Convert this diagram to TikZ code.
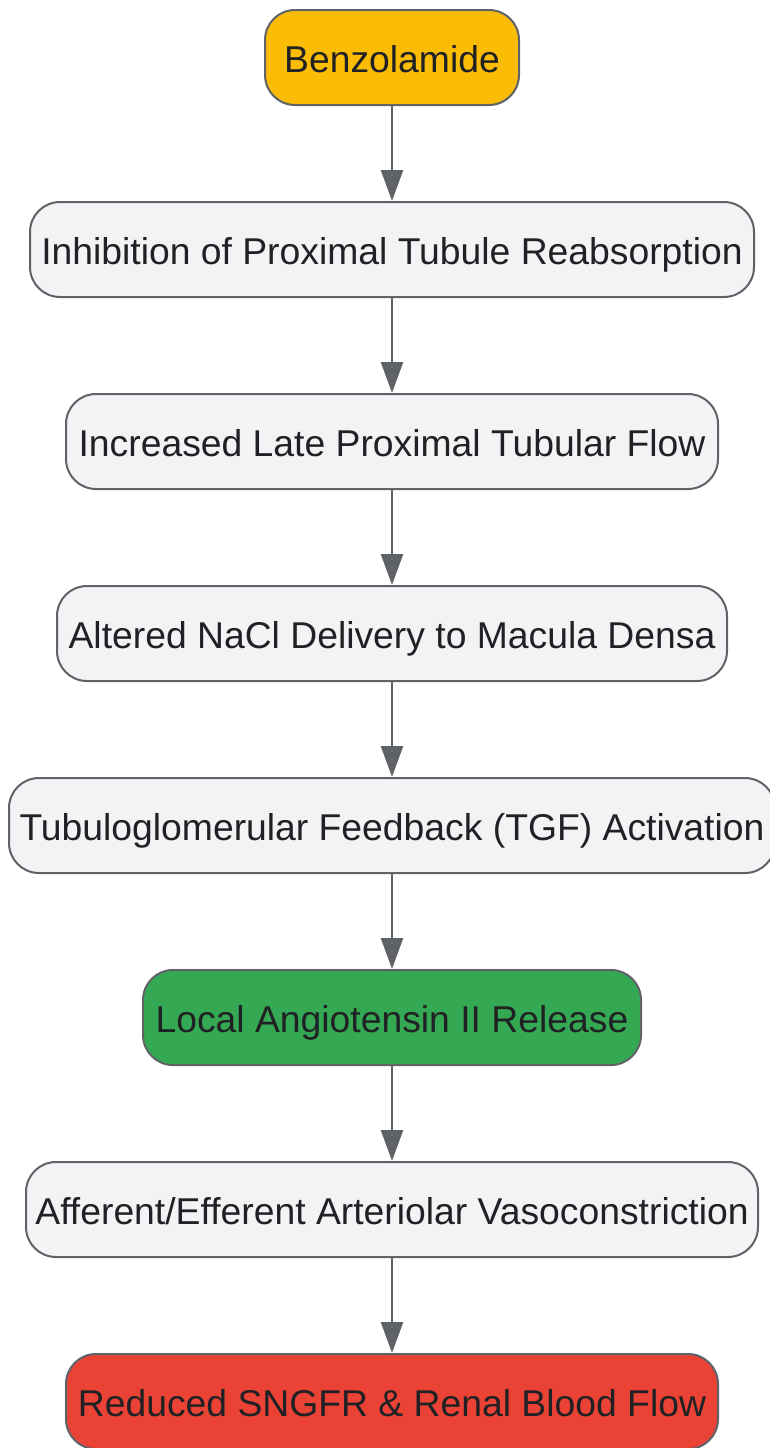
\documentclass[tikz,border=0pt]{standalone}
\usepackage{fontspec}
\setmainfont{Liberation Sans}
\usetikzlibrary{arrows.meta}
\definecolor{edgegrey}{HTML}{5F6368}
\definecolor{lightfill}{HTML}{F1F3F4}
\definecolor{txt}{HTML}{202124}
\definecolor{yel}{HTML}{FBBC05}
\definecolor{grn}{HTML}{34A853}
\definecolor{redc}{HTML}{EA4335}
\tikzset{
  box/.style={draw=edgegrey, line width=2pt, rounded corners=30pt, fill=lightfill,
    minimum height=95pt, inner sep=0pt, text=txt, text height=30pt, text depth=0pt,
    font=\fontsize{37.3}{44}\selectfont},
  conn/.style={draw=edgegrey, line width=2.5pt, -{Triangle[width=22pt,length=31pt]}}
}
\begin{document}
\begin{tikzpicture}[x=1pt,y=-1pt]
\useasboundingbox (0,0) rectangle (769,1448);
\node[box, fill=yel, minimum width=254pt] (n1) at (392,57.5) {Benzolamide};
\node[box, minimum width=724pt] (n2) at (392,249.5) {Inhibition of Proximal Tubule Reabsorption};
\node[box, minimum width=652pt] (n3) at (392,441.5) {Increased Late Proximal Tubular Flow};
\node[box, minimum width=670pt] (n4) at (392,633.5) {Altered NaCl Delivery to Macula Densa};
\node[box, minimum width=766pt] (n5) at (392,825.5) {Tubuloglomerular Feedback (TGF) Activation};
\node[box, fill=grn, minimum width=498pt] (n6) at (392,1017.5) {Local Angiotensin II Release};
\node[box, minimum width=732pt] (n7) at (392,1209.5) {Afferent/Efferent Arteriolar Vasoconstriction};
\node[box, fill=redc, minimum width=652pt] (n8) at (392,1401.5) {Reduced SNGFR \& Renal Blood Flow};
\foreach \a/\b in {n1/n2,n2/n3,n3/n4,n4/n5,n5/n6,n6/n7,n7/n8}
  \draw[conn] (\a.south) -- (\b.north);
\end{tikzpicture}
\end{document}
